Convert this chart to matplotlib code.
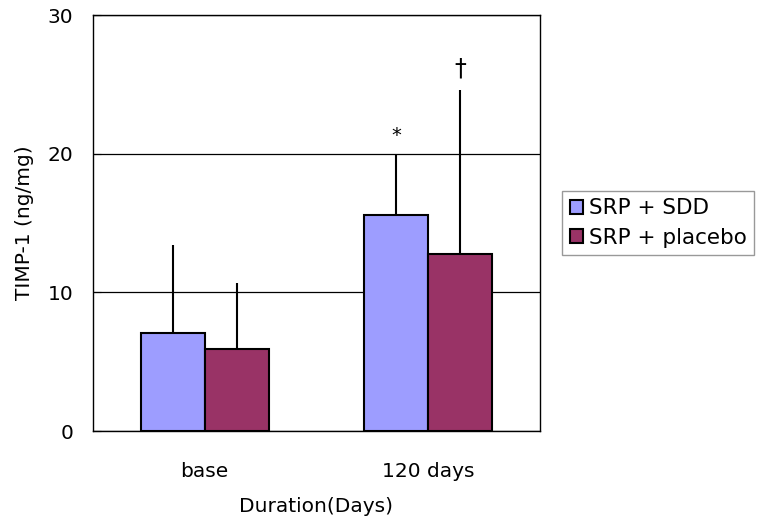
import matplotlib
matplotlib.use('Agg')
import matplotlib.pyplot as plt
import numpy as np

plt.rcParams['font.family'] = ['DejaVu Sans']

# Data
groups = ['base', '120 days']
series = ['SRP + SDD', 'SRP + placebo']
means_sdd = [7.1, 15.55]
err_sdd = [6.3, 4.35]
means_placebo = [5.95, 12.8]
err_placebo = [4.75, 11.8]
marks_sdd = ['', '*']
marks_placebo = ['', '†']

colors = ['#9D9DFF', '#993366']

fig = plt.figure(figsize=(7.68, 5.2), dpi=100)
ax = fig.add_axes([0.121, 0.171, 0.582, 0.8])

x = np.arange(len(groups))
w = 0.286

for off, means, errs, marks, col, lab, msize in [
    (-w / 2, means_sdd, err_sdd, marks_sdd, colors[0], series[0], 14),
    (w / 2, means_placebo, err_placebo, marks_placebo, colors[1], series[1], 17),
]:
    ax.bar(x + off, means, w, color=col, edgecolor='black', linewidth=1.5,
           label=lab, zorder=3)
    ax.errorbar(x + off, means, yerr=[np.zeros(len(errs)), errs], fmt='none',
                ecolor='black', elinewidth=1.5, capsize=0, zorder=2)
    for xi, m, e, t in zip(x + off, means, errs, marks):
        if t:
            ax.text(xi, m + e + 0.7, t, ha='center', va='bottom', fontsize=msize)

ax.set_xlim(-0.5, 1.5)
ax.set_ylim(0, 30)
ax.set_yticks([0, 10, 20, 30])
ax.set_xticks(x)
ax.set_xticklabels(groups, fontsize=14.5)
ax.tick_params(axis='x', length=0, pad=22)
ax.tick_params(axis='y', direction='in', length=6, labelsize=14.5, pad=14)
ax.yaxis.grid(True, color='black', linewidth=0.9, zorder=0)
ax.set_axisbelow(True)
for s in ax.spines.values():
    s.set_linewidth(1.0)

ax.set_ylabel('TIMP-1 (ng/mg)', fontsize=14.5, labelpad=10)
ax.set_xlabel('Duration(Days)', fontsize=14.5, labelpad=12)

leg = ax.legend(loc='center left', bbox_to_anchor=(1.05, 0.5), fontsize=15.5,
                frameon=True, fancybox=False, edgecolor='#808080',
                handlelength=0.62, handleheight=0.62, handletextpad=0.25,
                borderpad=0.35, labelspacing=0.45, borderaxespad=0)
leg.get_frame().set_linewidth(1.0)

fig.savefig('out.png', dpi=100)
